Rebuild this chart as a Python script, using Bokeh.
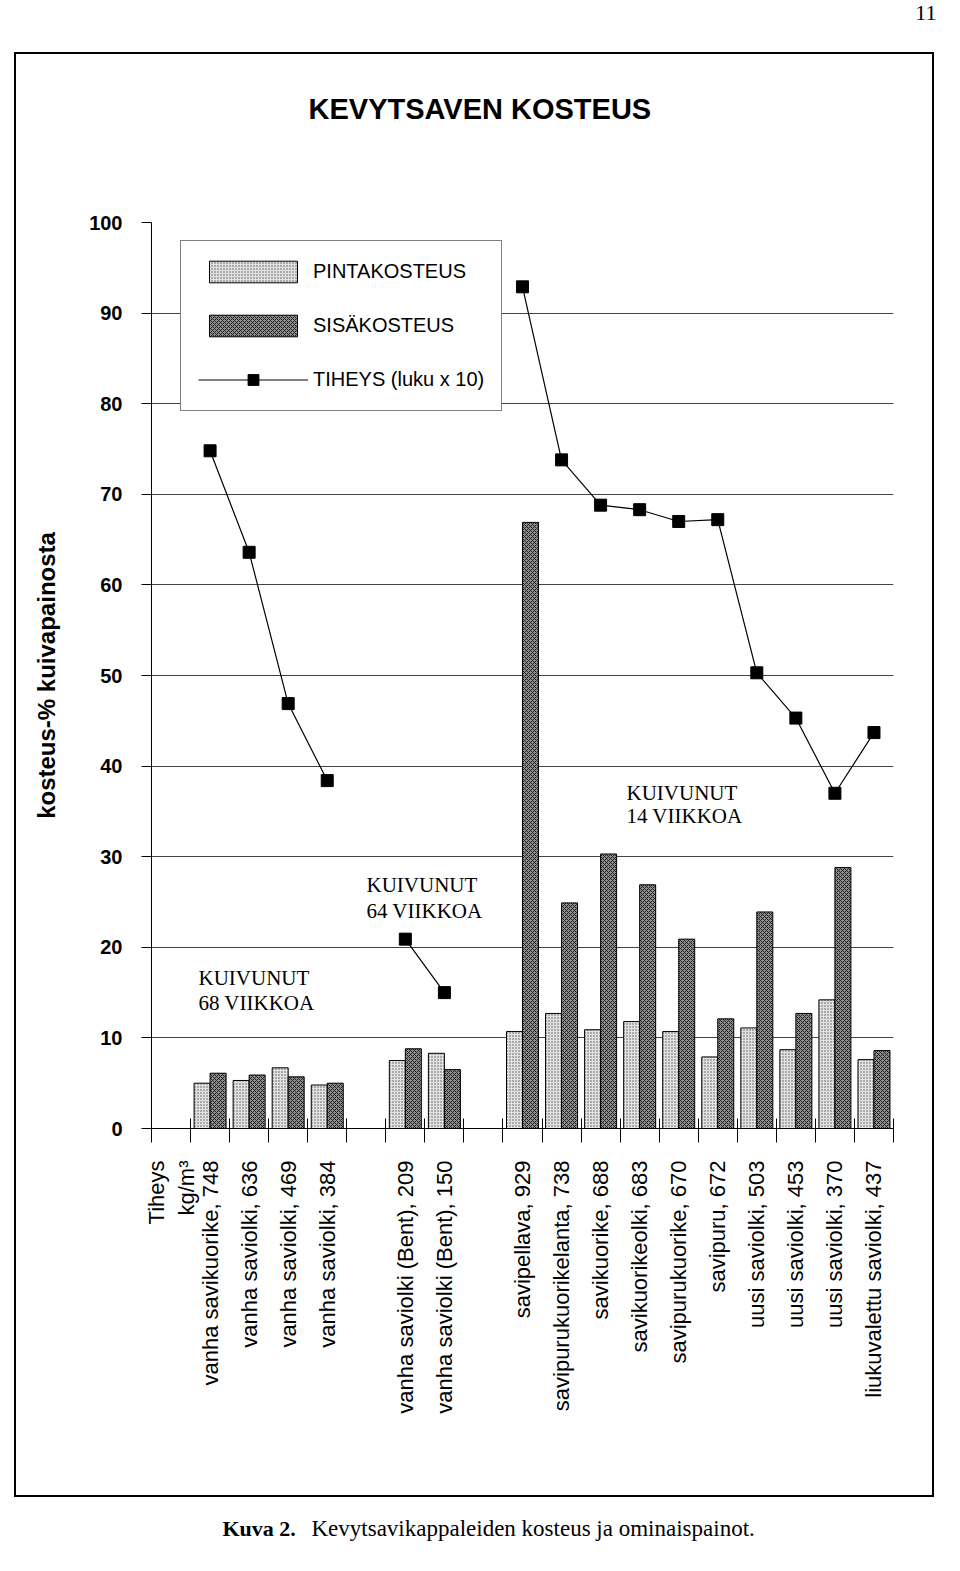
import math
from bokeh.plotting import figure
from bokeh.layouts import column
from bokeh.models import Range1d, FixedTicker, Label, Legend, LegendItem
from bokeh.embed import file_html
from bokeh.resources import INLINE

# ---------------- data ----------------
names = ["vanha savikuorike", "vanha saviolki", "vanha saviolki", "vanha saviolki",
         "vanha saviolki (Bent)", "vanha saviolki (Bent)",
         "savipellava", "savipurukuorikelanta", "savikuorike", "savikuorikeolki",
         "savipurukuorike", "savipuru", "uusi saviolki", "uusi saviolki",
         "uusi saviolki", "liukuvalettu saviolki"]
density = [748, 636, 469, 384, 209, 150, 929, 738, 688, 683, 670, 672, 503, 453, 370, 437]
pinta = [5.0, 5.3, 6.7, 4.8, 7.5, 8.3, 10.7, 12.7, 10.9, 11.8, 10.7, 7.9, 11.1, 8.7, 14.2, 7.6]
sisa = [6.1, 5.9, 5.7, 5.0, 8.8, 6.5, 66.9, 24.9, 30.3, 26.9, 20.9, 12.1, 23.9, 12.7, 28.8, 8.6]
group_sizes = [4, 2, 10]
group_notes = [("KUIVUNUT", "68 VIIKKOA"), ("KUIVUNUT", "64 VIIKKOA"), ("KUIVUNUT", "14 VIIKKOA")]
y_ticks = list(range(0, 101, 10))
density_label = "Tiheys\nkg/m³"
series_names = ["PINTAKOSTEUS", "SISÄKOSTEUS", "TIHEYS (luku x 10)"]
title_text = "KEVYTSAVEN KOSTEUS"
y_title = "kosteus-% kuivapainosta"
caption_bold = "Kuva 2."
caption_text = "Kevytsavikappaleiden kosteus ja ominaispainot."
page_no = "11"

# ---------------- layout geometry (page pixels) ----------------
PAGE_W = 944
BOX_L, BOX_T, BOX_R, BOX_B, BORDER = 14, 52, 934, 1497, 2
IN_L, IN_T = BOX_L + BORDER, BOX_T + BORDER
IN_W = BOX_R - BOX_L - 2 * BORDER
IN_B = BOX_B - BORDER
TITLE_H = 158
X0, X1, Y0, Y1 = 151, 893, 1128, 222  # plot frame on the page


def blank_fig(w, h, **kw):
    f = figure(width=w, height=h, x_range=Range1d(0, w), y_range=Range1d(0, h),
               output_backend="svg", toolbar_location=None, title=None,
               x_axis_type=None, y_axis_type=None, min_border=0, **kw)
    f.outline_line_color = None
    f.grid.visible = False
    f.background_fill_color = "white"
    f.border_fill_color = "white"
    f.frame_align = False
    return f


# page number strip
top_h = BOX_T
top_fig = blank_fig(PAGE_W, top_h)
top_fig.add_layout(Label(x=936, y=top_h - 12, text=page_no, text_align="right",
                         text_baseline="middle", text_font="Liberation Serif",
                         text_font_size="22px", text_color="black"))

# title strip (inside the box)
title_fig = blank_fig(IN_W, TITLE_H)
title_fig.add_layout(Label(x=308 - IN_L, y=TITLE_H - (108 - IN_T), text=title_text,
                           text_align="left", text_baseline="middle",
                           text_font="Liberation Sans", text_font_style="bold",
                           text_font_size="29px", text_color="black"))

# ---------------- main chart ----------------
slots, group_of = [], []
s = 1
for gi, g in enumerate(group_sizes):
    for k in range(g):
        slots.append(s)
        group_of.append(gi)
        s += 1
    s += 1
n_slots = slots[-1] + 1
XMAX = 2 * n_slots
centers = [2 * sl + 1 for sl in slots]


def px2x(px):
    return (px - X0) / (X1 - X0) * XMAX


def py2y(py):
    return (Y0 - py) / (Y0 - Y1) * 100.0


main_top = IN_T + TITLE_H
main_h = IN_B - main_top
p = figure(width=IN_W, height=main_h, x_range=Range1d(0, XMAX), y_range=Range1d(0, 100),
           output_backend="svg", toolbar_location=None, title=None,
           min_border_left=X0 - IN_L, min_border_right=(IN_L + IN_W) - X1,
           min_border_top=Y1 - main_top, min_border_bottom=(main_top + main_h) - Y0)
p.outline_line_color = None
p.background_fill_color = "white"
p.border_fill_color = "white"
p.frame_align = False

# x axis
xa = p.xaxis[0]
label_ticks = [1] + centers
overrides = {1: density_label}
for c, n, d in zip(centers, names, density):
    overrides[c] = f"{n}, {d}"
xa.ticker = FixedTicker(ticks=label_ticks, minor_ticks=list(range(0, XMAX + 1, 2)))
xa.major_label_overrides = overrides
xa.major_tick_in = 0
xa.major_tick_out = 0
xa.minor_tick_in = 10
xa.minor_tick_out = 14
xa.minor_tick_line_color = "black"
xa.minor_tick_line_width = 1
xa.axis_line_color = "black"
xa.major_label_orientation = math.pi / 2
xa.major_label_standoff = 18
xa.major_label_text_font = "Liberation Sans"
xa.major_label_text_font_size = "22px"
xa.major_label_text_color = "black"

# y axis
ya = p.yaxis[0]
ya.ticker = FixedTicker(ticks=y_ticks)
ya.major_tick_in = 0
ya.major_tick_out = 10
ya.minor_tick_line_color = None
ya.axis_line_color = "black"
ya.major_label_text_font = "Liberation Sans"
ya.major_label_text_font_size = "20px"
ya.major_label_text_font_style = "bold"
ya.major_label_text_color = "black"
ya.major_label_standoff = 19
ya.axis_label = y_title
ya.axis_label_text_font = "Liberation Sans"
ya.axis_label_text_font_size = "24px"
ya.axis_label_text_font_style = "bold"
ya.axis_label_text_color = "black"
ya.axis_label_standoff = 26

p.xgrid.visible = False
p.ygrid.ticker = FixedTicker(ticks=y_ticks)
p.ygrid.grid_line_color = "#444444"
p.ygrid.grid_line_width = 1

# bars
bw = 16 / ((X1 - X0) / XMAX)
xl = [c - bw / 2 for c in centers]
xd = [c + bw / 2 for c in centers]
r_light = p.vbar(x=xl, top=pinta, bottom=0, width=bw, fill_color="#e2e2e2",
                 line_color="black", line_width=1, hatch_pattern="dot",
                 hatch_color="#555555", hatch_scale=3, hatch_weight=1)
r_dark = p.vbar(x=xd, top=sisa, bottom=0, width=bw, fill_color="#8c8c8c",
                line_color="black", line_width=1, hatch_pattern="diagonal_cross",
                hatch_color="#222222", hatch_scale=4, hatch_weight=1)

# density line (luku x 10)
lx, ly = [], []
for i, (c, d) in enumerate(zip(centers, density)):
    if i > 0 and group_of[i] != group_of[i - 1]:
        lx.append(float("nan"))
        ly.append(float("nan"))
    lx.append(c)
    ly.append(d / 10.0)
r_line = p.line(lx, ly, line_color="black", line_width=1.2)
r_pts = p.scatter(centers, [d / 10.0 for d in density], marker="square",
                  size=12, fill_color="black", line_color="black")

legend = Legend(items=[LegendItem(label=series_names[0], renderers=[r_light]),
                       LegendItem(label=series_names[1], renderers=[r_dark]),
                       LegendItem(label=series_names[2], renderers=[r_line, r_pts])],
                location=(180 - X0, Y0 - 411))
legend.margin = 0
legend.padding = 17
legend.spacing = 27
legend.glyph_width = 110
legend.glyph_height = 27
legend.label_height = 27
legend.label_standoff = 5
legend.label_text_font = "Liberation Sans"
legend.label_text_font_size = "20px"
legend.label_text_color = "black"
legend.border_line_color = "black"
legend.border_line_width = 1
legend.background_fill_color = "white"
legend.background_fill_alpha = 1.0
p.add_layout(legend)

# group notes
note_pos = [(198, 977, 1002), (366, 884, 910), (626, 792, 815)]
for (l1, l2), (nx, ny1, ny2) in zip(group_notes, note_pos):
    for txt, yy in ((l1, ny1), (l2, ny2)):
        p.add_layout(Label(x=px2x(nx), y=py2y(yy), text=txt, text_align="left",
                           text_baseline="middle", text_font="Liberation Serif",
                           text_font_size="21px", text_color="black"))

box = column(title_fig, p, spacing=0, margin=(0, 0, 0, BOX_L),
             styles={"border": f"{BORDER}px solid black"})

# caption strip
cap_h = 66
cap_fig = blank_fig(PAGE_W, cap_h)
cap_y = cap_h - (1528 - BOX_B)
cap_fig.add_layout(Label(x=222, y=cap_y, text=caption_bold, text_align="left",
                         text_baseline="middle", text_font="Liberation Serif",
                         text_font_style="bold", text_font_size="22px", text_color="black"))
cap_fig.add_layout(Label(x=311, y=cap_y, text=caption_text, text_align="left",
                         text_baseline="middle", text_font="Liberation Serif",
                         text_font_size="23px", text_color="black"))

layout = column(top_fig, box, cap_fig, spacing=0)

open("out.html", "w").write(file_html(layout, INLINE))
